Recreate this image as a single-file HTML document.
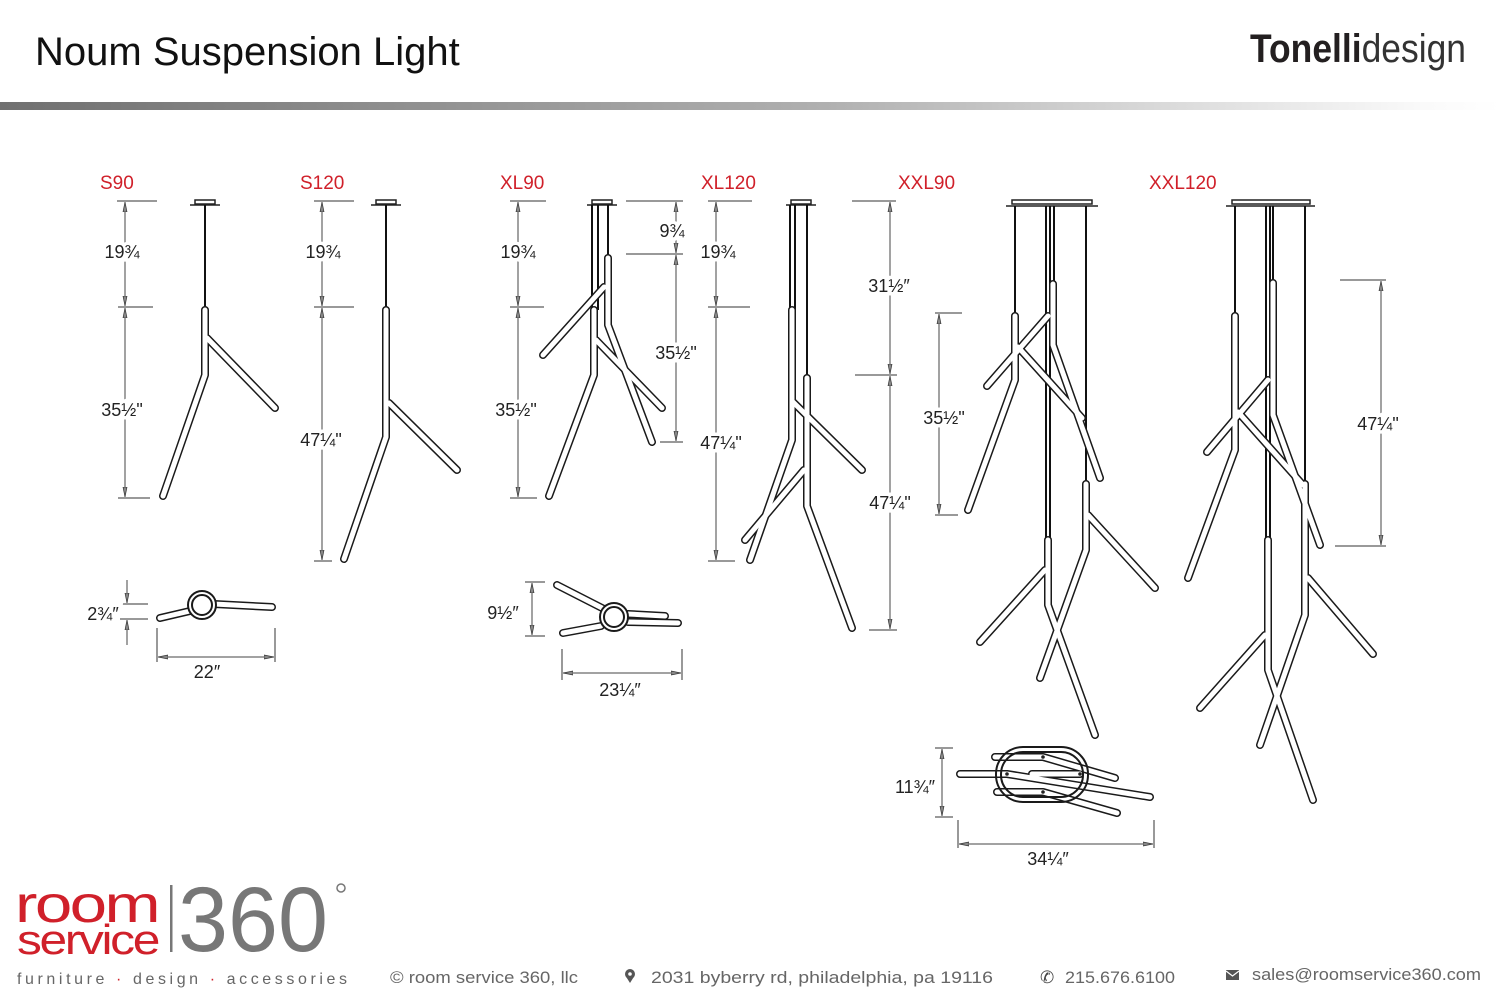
<!DOCTYPE html>
<html><head><meta charset="utf-8"><style>
html,body{margin:0;padding:0;background:#fff;}
svg{display:block;}
text{font-family:"Liberation Sans",sans-serif;}
.d{font-size:18px;fill:#222;text-anchor:middle;stroke:#fff;stroke-width:7;paint-order:stroke;}
.r{font-size:19px;fill:#d0202a;}
</style></head><body>
<svg width="1500" height="1000" viewBox="0 0 1500 1000" xmlns="http://www.w3.org/2000/svg">
<defs>
<linearGradient id="bar" x1="0" x2="1" y1="0" y2="0">
<stop offset="0" stop-color="#707070"/><stop offset="0.55" stop-color="#b0b0b0"/><stop offset="0.95" stop-color="#fafafa"/><stop offset="1" stop-color="#fff"/>
</linearGradient>
<marker id="a" viewBox="0 0 10 10" refX="10" refY="5" markerWidth="10" markerHeight="10" orient="auto-start-reverse" markerUnits="userSpaceOnUse">
<path d="M10,5 L0,3 L0,7 Z" fill="#888" stroke="#333" stroke-width="0.7"/>
</marker>
<g id="tubes" fill="none" stroke-linecap="round" stroke-linejoin="round">
<path d="M205,310 V375 L163,496"/><path d="M207,338 L275,408"/>
<path d="M386,310 V437 L344,559"/><path d="M389,403 L457,470"/>
<path d="M594,310 V375 L549,496"/><path d="M608,258 V325 L652,442"/>
<path d="M604,287 L543,355"/><path d="M596,340 L662,408"/>
<path d="M792,310 V440 L750,560"/><path d="M807,378 V506 L852,628"/>
<path d="M793,402 L862,470"/><path d="M804,470 L745,540"/>
<path d="M1015,316 V380 L968,510"/><path d="M1048,316 L987,386"/>
<path d="M1018,347 L1082,418"/><path d="M1053,284 V345 L1100,478"/>
<path d="M1048,540 V605 L1095,735"/><path d="M1086,484 V550 L1040,678"/>
<path d="M1088,515 L1155,588"/><path d="M1045,570 L980,642"/>
<path d="M1235,316 V450 L1188,578"/><path d="M1268,380 L1207,452"/>
<path d="M1238,412 L1303,485"/><path d="M1273,283 V415 L1320,545"/>
<path d="M1268,540 V670 L1313,800"/><path d="M1305,484 V615 L1260,745"/>
<path d="M1308,578 L1373,654"/><path d="M1265,635 L1200,708"/>
<path d="M214,604 L272,607"/><path d="M190,611 L160,618"/>
<path d="M604,609 L557,585"/><path d="M601,626 L563,633"/><path d="M628,614 L665,616"/><path d="M628,622 L678,623"/>
<path d="M995,757 H1043 L1115,778"/><path d="M960,774 H1007 L1150,797"/><path d="M1032,774 H1080"/><path d="M997,792 H1043 L1117,813"/>
</g>
</defs>

<text x="35" y="65" font-size="40" fill="#111">Noum Suspension Light</text>
<text x="1250" y="62" font-size="40" fill="#231f20" textLength="216" lengthAdjust="spacingAndGlyphs"><tspan font-weight="bold">Tonelli</tspan><tspan font-weight="normal" fill="#333">design</tspan></text>
<rect x="0" y="102" width="1500" height="8" fill="url(#bar)"/>

<text class="r" x="100" y="189">S90</text>
<text class="r" x="300" y="189">S120</text>
<text class="r" x="500" y="189">XL90</text>
<text class="r" x="701" y="189">XL120</text>
<text class="r" x="898" y="189">XXL90</text>
<text class="r" x="1149" y="189">XXL120</text>

<g stroke="#222" stroke-width="1.5" fill="#fff">
<rect x="195" y="200" width="20" height="4"/><line x1="190" y1="205" x2="220" y2="205"/>
<rect x="376" y="200" width="20" height="4"/><line x1="371" y1="205" x2="401" y2="205"/>
<rect x="592" y="200" width="20" height="4"/><line x1="587" y1="205" x2="617" y2="205"/>
<rect x="791" y="200" width="20" height="4"/><line x1="786" y1="205" x2="816" y2="205"/>
<rect x="1012" y="200" width="80" height="4"/><line x1="1006" y1="206" x2="1098" y2="206"/>
<rect x="1232" y="200" width="78" height="4"/><line x1="1226" y1="206" x2="1315" y2="206"/>
</g>
<g stroke="#111" stroke-width="2">
<line x1="205" y1="205" x2="205" y2="310"/>
<line x1="386" y1="205" x2="386" y2="310"/>
<line x1="592" y1="205" x2="592" y2="310"/><line x1="598" y1="205" x2="598" y2="310"/>
<line x1="608" y1="205" x2="608" y2="258"/>
<line x1="790" y1="205" x2="790" y2="310"/><line x1="795" y1="205" x2="795" y2="310"/>
<line x1="807" y1="205" x2="807" y2="378"/>
<line x1="1015" y1="206" x2="1015" y2="316"/>
<line x1="1046" y1="206" x2="1046" y2="540"/><line x1="1050" y1="206" x2="1050" y2="540"/>
<line x1="1054" y1="206" x2="1054" y2="284"/>
<line x1="1086" y1="206" x2="1086" y2="484"/>
<line x1="1235" y1="206" x2="1235" y2="316"/>
<line x1="1266" y1="206" x2="1266" y2="540"/><line x1="1270" y1="206" x2="1270" y2="540"/>
<line x1="1273" y1="206" x2="1273" y2="283"/>
<line x1="1305" y1="206" x2="1305" y2="484"/>
</g>

<use href="#tubes" stroke="#1a1a1a" stroke-width="8"/>
<use href="#tubes" stroke="#fff" stroke-width="5"/>

<g fill="#fff" stroke="#1a1a1a" stroke-width="2">
<circle cx="202" cy="605" r="14"/><circle cx="202" cy="605" r="10"/>
<circle cx="614" cy="617" r="14"/><circle cx="614" cy="617" r="10"/>
<rect x="996" y="747" width="92" height="55" rx="27" fill="none"/>
<rect x="1001" y="752" width="82" height="45" rx="22" fill="none"/>
</g>
<g fill="#222"><circle cx="1043" cy="757" r="1.8"/><circle cx="1007" cy="774" r="1.8"/><circle cx="1080" cy="774" r="1.8"/><circle cx="1043" cy="792" r="1.8"/></g>

<g stroke="#333" stroke-width="1">
<path d="M117,201H157 M118,307H153 M118,498H150"/>
<path d="M314,201H354 M314,307H354 M314,561H332"/>
<path d="M510,201H546 M510,307H544 M510,498H537"/>
<path d="M626,201H683 M626,254H683 M660,442H683"/>
<path d="M708,201H752 M708,307H750 M708,561H735"/>
<path d="M852,201H896 M855,375H897 M869,630H897"/>
<path d="M935,313H962 M935,515H958"/>
<path d="M1340,280H1386 M1335,546H1386"/>
<path d="M120,604H148 M120,619H148 M157,628V662 M275,628V662"/>
<path d="M525,582H545 M525,636H545 M562,649V680 M682,649V680"/>
<path d="M935,748H953 M935,817H953 M958,820V848 M1154,820V848"/>
</g>
<g stroke="#444" stroke-width="1" fill="none" marker-start="url(#a)" marker-end="url(#a)">
<path d="M125,202V306"/><path d="M125,308V497"/>
<path d="M322,202V306"/><path d="M322,308V560"/>
<path d="M518,202V306"/><path d="M518,308V497"/>
<path d="M676,202V253"/><path d="M676,255V441"/>
<path d="M716,202V306"/><path d="M716,308V560"/>
<path d="M890,202V374"/><path d="M890,376V629"/>
<path d="M939,314V514"/>
<path d="M1381,281V545"/>
<path d="M532,583V635"/>
<path d="M942,749V816"/>
<path d="M158,657H274"/><path d="M563,673H681"/><path d="M959,844H1153"/>
</g>
<g stroke="#444" stroke-width="1" fill="none">
<path d="M127,580V603" marker-end="url(#a)"/><path d="M127,645V620" marker-end="url(#a)"/>
</g>

<text class="d" x="122" y="258">19¾</text>
<text class="d" x="122" y="416">35½"</text>
<text class="d" x="323" y="258">19¾</text>
<text class="d" x="321" y="446">47¼"</text>
<text class="d" x="518" y="258">19¾</text>
<text class="d" x="516" y="416">35½"</text>
<text class="d" x="672" y="237">9¾</text>
<text class="d" x="676" y="359">35½"</text>
<text class="d" x="718" y="258">19¾</text>
<text class="d" x="721" y="449">47¼"</text>
<text class="d" x="889" y="292">31½″</text>
<text class="d" x="890" y="509">47¼"</text>
<text class="d" x="944" y="424">35½"</text>
<text class="d" x="1378" y="430">47¼"</text>
<text class="d" x="103" y="620">2¾″</text>
<text class="d" x="207" y="678">22″</text>
<text class="d" x="503" y="619">9½″</text>
<text class="d" x="620" y="696">23¼″</text>
<text class="d" x="915" y="793">11¾″</text>
<text class="d" x="1048" y="865">34¼″</text>

<text x="15" y="922" font-size="52" fill="#d0202a" letter-spacing="-2" textLength="143" lengthAdjust="spacingAndGlyphs">room</text>
<text x="17" y="954" font-size="42" fill="#d0202a" letter-spacing="-2" textLength="141" lengthAdjust="spacingAndGlyphs">service</text>
<rect x="170" y="885" width="2.5" height="67" fill="#777"/>
<text x="178" y="951" font-size="92" fill="#777" textLength="150" lengthAdjust="spacingAndGlyphs">360</text>
<circle cx="341" cy="888" r="4" fill="none" stroke="#777" stroke-width="1.5"/>
<text x="17" y="984" font-size="16" fill="#666" textLength="330" lengthAdjust="spacing">furniture  <tspan fill="#d0202a">·</tspan>  design  <tspan fill="#d0202a">·</tspan>  accessories</text>
<text x="390" y="983" font-size="17" fill="#666" textLength="188" lengthAdjust="spacingAndGlyphs">© room service 360, llc</text>
<circle cx="630" cy="974" r="5" fill="#555"/><path d="M625.6,976 L630,983 L634.4,976 Z" fill="#555"/><circle cx="630" cy="974" r="1.8" fill="#fff"/>
<text x="651" y="983" font-size="17" fill="#666" textLength="342" lengthAdjust="spacingAndGlyphs">2031 byberry rd, philadelphia, pa 19116</text>
<text x="1040" y="983" font-size="17" fill="#444">✆</text>
<text x="1065" y="983" font-size="17" fill="#666" textLength="110" lengthAdjust="spacingAndGlyphs">215.676.6100</text>
<rect x="1226" y="970" width="13" height="10" fill="#555"/><path d="M1226,971 L1232.5,976 L1239,971" stroke="#fff" stroke-width="1.2" fill="none"/>
<text x="1252" y="980" font-size="17" fill="#666" textLength="229" lengthAdjust="spacingAndGlyphs">sales@roomservice360.com</text>
</svg>
</body></html>
